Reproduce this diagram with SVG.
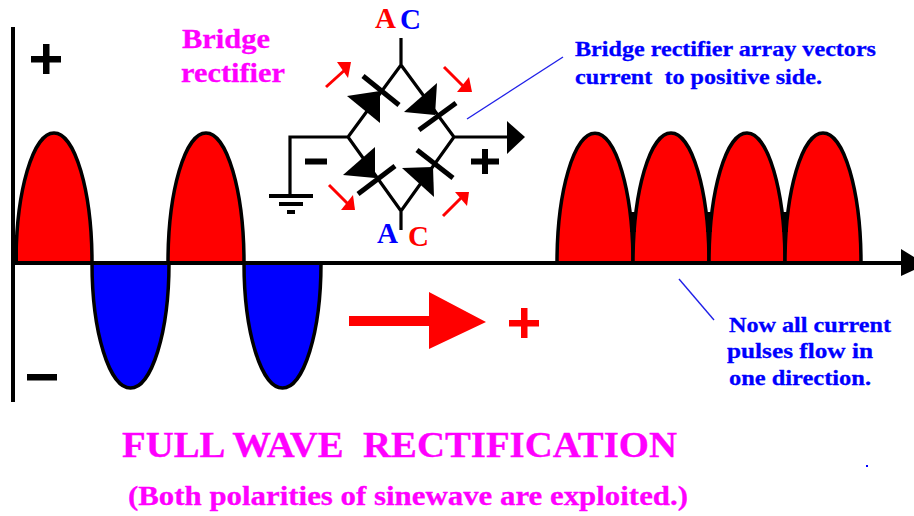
<svg xmlns="http://www.w3.org/2000/svg" width="914" height="516" viewBox="0 0 914 516">
<style>
text{font-family:"Liberation Serif","Times New Roman",serif;font-weight:bold;white-space:pre}
.mag{fill:#ff00ff;stroke:#ff00ff;stroke-width:.3}.blu{fill:#0000ff}.red{fill:#ff0000}
.note{font-size:22px;fill:#0000ff;stroke:#0000ff;stroke-width:.3}
.ac{font-size:29px}
.wave{stroke:#000;stroke-width:3.5;stroke-linejoin:round}
.k{stroke:#000;fill:none}
.w2{stroke-width:3.2}.w3{stroke-width:4}.w5{stroke-width:5}
.ra{stroke:#ff0000;stroke-width:3;fill:none}
.leader{stroke:#2020e8;stroke-width:1.4;fill:none}
</style>
<rect width="914" height="516" fill="#fff"/>
<g id="input-wave">
<path class="wave" fill="#ff0000" d="M16 263A38 130 0 0 1 92 263Z"/>
<path class="wave" fill="#ff0000" d="M168 263A38 130 0 0 1 244 263Z"/>
<path class="wave" fill="#0000ff" d="M92 263A38.500 125 0 0 0 169 263Z"/>
<path class="wave" fill="#0000ff" d="M244 263A38.500 125 0 0 0 321 263Z"/>
<rect x="13" y="235" width="5" height="28"/>
</g>
<g id="output-wave">
<path class="wave" fill="#ff0000" d="M557 263A38 130 0 0 1 633 263Z"/>
<path class="wave" fill="#ff0000" d="M633 263A38 130 0 0 1 709 263Z"/>
<path class="wave" fill="#ff0000" d="M709 263A38 130 0 0 1 785 263Z"/>
<path class="wave" fill="#ff0000" d="M785 263A38 130 0 0 1 861 263Z"/>
<path d="M630 212H636V232H630ZM706 212H712V232H706ZM782 212H788V232H782Z"/>
</g>
<g id="axes">
<path class="k w3" d="M13 27V402M13 263H902"/>
<path d="M901 249L914 257V270L901 276Z"/>
<path d="M31 56H61V62.500H31ZM43 44H49.500V74H43ZM27 374H57V380.500H27Z"/>
</g>
<g id="bridge">
<g id="connectors">
<path class="k w2" d="M401 38V65L348 137L401 211L454 137L401 65M401 211V230M454 137H508M348 137H290V196"/>
<path class="k w3" d="M269 196H313M279 204H303M287 212H295"/>
</g>
<g id="diode-top-left"><path d="M347 96L380 91V123Z"/><path class="k w5" d="M363 76L399 105"/></g>
<g id="diode-top-right"><path d="M404 112L437 83L435 115Z"/><path class="k w5" d="M419 130L456 103"/></g>
<g id="diode-bottom-right"><path d="M402 168L433 167L434 197Z"/><path class="k w5" d="M417 150L453 178"/></g>
<g id="diode-bottom-left"><path d="M343 175L375 147V178Z"/><path class="k w5" d="M358 194L395 166"/></g>
<path id="output-arrow" d="M507 121L525 137L507 154Z"/>
<path d="M305 158.500H327V164.500H305ZM471 158.500H499V164.500H471ZM482 149H488V174H482Z"/>
</g>
<g id="current-arrows">
<path class="ra" d="M326 87L347 68"/><path class="red" d="M337 62H351L348 78Z"/>
<path class="ra" d="M444 67L465 88"/><path class="red" d="M457 92H472L469 77Z"/>
<path class="ra" d="M329 185L350 206"/><path class="red" d="M341 210H355L353 195Z"/>
<path class="ra" d="M443 216L464 195"/><path class="red" d="M455 192H469L467 206Z"/>
</g>
<g id="big-arrow">
<path class="red" d="M349 316H429V292L486 322L429 349V326H349Z"/>
<path class="red" d="M509 320H539V326.500H509ZM521 308H527.500V338H521Z"/>
</g>
<g id="leaders">
<path class="leader" d="M467 119L563 57"/>
<path class="leader" d="M679 279L714 320"/>
</g>
<g id="labels">
<text class="mag" x="182" y="48" font-size="28" textLength="88" lengthAdjust="spacingAndGlyphs">Bridge</text>
<text class="mag" x="181" y="82" font-size="28" textLength="104" lengthAdjust="spacingAndGlyphs">rectifier</text>
<text class="ac red" x="375" y="28">A</text><text class="ac blu" x="400" y="29">C</text>
<text class="ac blu" x="377" y="243">A</text><text class="ac red" x="408" y="246">C</text>
<text class="note" x="575" y="56" textLength="301" lengthAdjust="spacingAndGlyphs">Bridge rectifier array vectors</text>
<text class="note" x="575" y="84" textLength="247" lengthAdjust="spacingAndGlyphs">current  to positive side.</text>
<text class="note" x="729" y="332" textLength="162" lengthAdjust="spacingAndGlyphs">Now all current</text>
<text class="note" x="727" y="358" textLength="146" lengthAdjust="spacingAndGlyphs">pulses flow in</text>
<text class="note" x="729" y="385" textLength="142" lengthAdjust="spacingAndGlyphs">one direction.</text>
<text class="mag" x="122" y="457" font-size="35" textLength="555" lengthAdjust="spacingAndGlyphs">FULL WAVE  RECTIFICATION</text>
<text class="mag" x="128" y="505" font-size="27" textLength="560" lengthAdjust="spacingAndGlyphs">(Both polarities of sinewave are exploited.)</text>
</g>
<rect x="866" y="465" width="2" height="2" fill="#0000ff"/>
</svg>
